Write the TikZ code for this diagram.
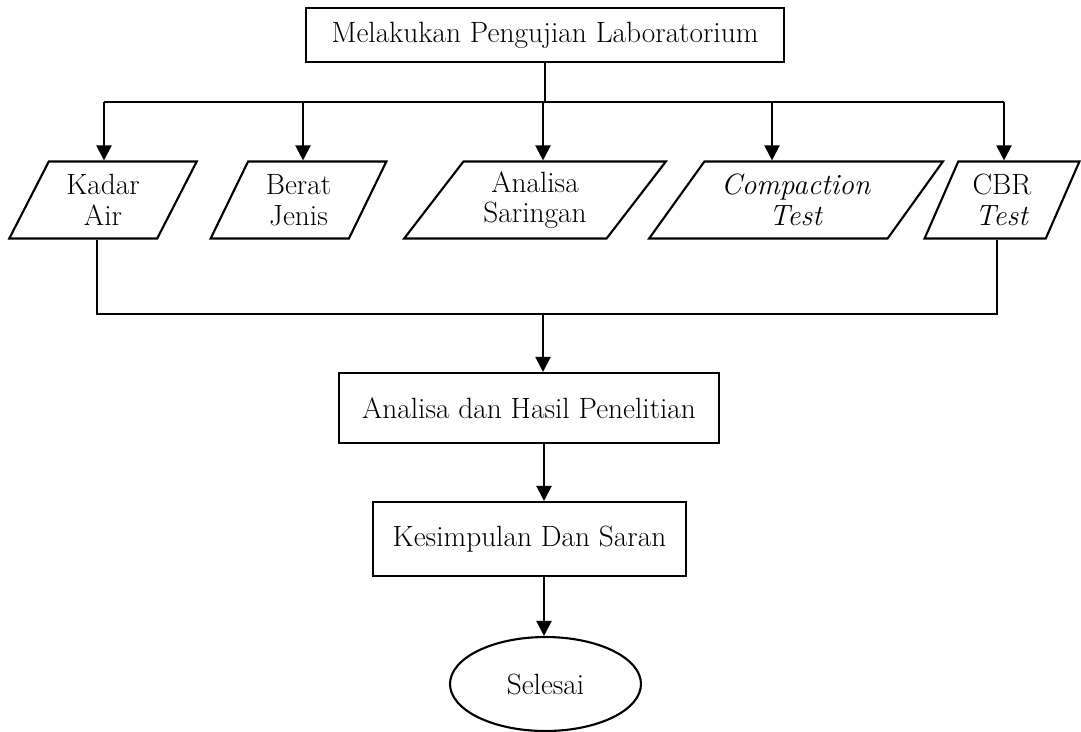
\documentclass[tikz,border=0pt]{standalone}
\usepackage{tikz}
\usetikzlibrary{shapes.geometric}
\usetikzlibrary{arrows.meta}

\tikzset{
        kotak/.style={draw, rectangle, align=center},
        jajar/.style={draw, trapezium, trapezium stretches=true, align=center, minimum height=1.54cm},
        panah/.style={-{Triangle[length=0.3cm,width=0.3cm]}},
}

\begin{document}
\begin{tikzpicture}[x=0.02cm, y=-0.02cm, line width=1.2pt, font=\fontsize{16.7}{17.5}\selectfont]
        \useasboundingbox (0,0) rectangle (1081,731);

        \node[kotak, minimum width=9.56cm, minimum height=1.08cm] (uji) at (545,35) {Melakukan Pengujian Laboratorium};

        % jenis pengujian
        \node[jajar, minimum width=3.76cm, trapezium left angle=63.7, trapezium right angle=116.3] (kadar) at (103,200) {Kadar\\Air};
        \node[jajar, minimum width=3.54cm, trapezium left angle=65.6, trapezium right angle=114.4] (berat) at (298.5,200) {Berat\\Jenis};
        \node[jajar, minimum width=5.24cm, trapezium left angle=55.5, trapezium right angle=124.5] (saring) at (535,200) {Analisa\\Saringan};
        \node[jajar, minimum width=5.88cm, trapezium left angle=52.5, trapezium right angle=127.5] (kompak) at (796,200) {\textit{Compaction}\\\textit{Test}};
        \node[jajar, minimum width=3.12cm, trapezium left angle=66.8, trapezium right angle=113.2] (cbr) at (1002,200) {CBR\\\textit{Test}};

        \node[kotak, minimum width=7.6cm, minimum height=1.4cm] (hasil) at (529,408) {Analisa dan Hasil Penelitian};
        \node[kotak, minimum width=6.26cm, minimum height=1.48cm] (simpul) at (529.5,539) {Kesimpulan Dan Saran};
        \node[draw, ellipse, minimum width=3.82cm, minimum height=1.88cm] (selesai) at (545.5,684) {Selesai};

        % percabangan atas
        \coordinate (a1) at (104,102);
        \coordinate (a2) at (303,102);
        \coordinate (a3) at (543,102);
        \coordinate (a4) at (772,102);
        \coordinate (a5) at (1004,102);
        \draw (uji.south) -- (uji.south |- a1);
        \draw (a1) -- (a5);
        \foreach \a/\n in {a1/kadar, a2/berat, a3/saring, a4/kompak, a5/cbr}
                \draw[panah] (\a) -- (\a |- \n.north);

        % penggabungan bawah
        \coordinate (k1) at (97,314);
        \coordinate (k2) at (997,314);
        \coordinate (k3) at (543,314);
        \draw (k1 |- kadar.south) -- (k1) -- (k2) -- (k2 |- cbr.south);
        \draw[panah] (k3) -- (k3 |- hasil.north);

        \coordinate (t) at (544,0);
        \draw[panah] (t |- hasil.south) -- (t |- simpul.north);
        \draw[panah] (t |- simpul.south) -- (t |- selesai.north);
\end{tikzpicture}
\end{document}
